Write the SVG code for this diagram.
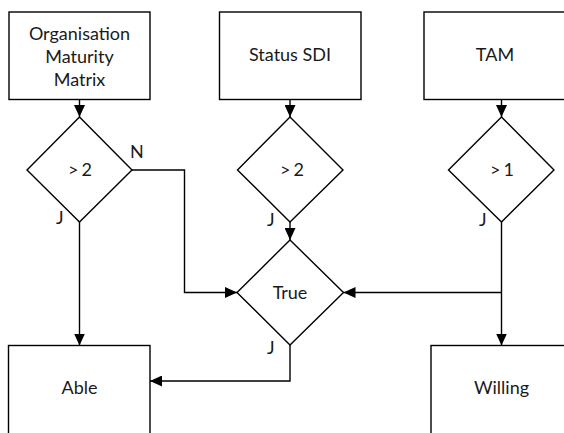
<svg xmlns="http://www.w3.org/2000/svg" width="564" height="433" viewBox="0 0 564 433">
<defs>
<marker id="ah" markerUnits="userSpaceOnUse" markerWidth="12" markerHeight="11" refX="12" refY="5.5" orient="auto">
<path d="M0,0 L12,5.5 L0,11 z" fill="#000"/>
</marker>
<style>
.s{fill:#fff;stroke:#000;stroke-width:1.4}
.t{font-family:Lato,"Open Sans",sans-serif;font-size:18px;fill:#1a1a1a;text-anchor:middle}
.l{font-family:Lato,"Open Sans",sans-serif;font-size:18px;fill:#1a1a1a}
.c{fill:none;stroke:#000;stroke-width:1.4;marker-end:url(#ah)}
.c2{fill:none;stroke:#000;stroke-width:1.4}
</style>
</defs>
<rect width="564" height="433" fill="#fff"/>
<g id="connectors">
<path class="c" d="M79.5,99.5 L79.5,117"/>
<path class="c" d="M290,99.5 L290,117"/>
<path class="c" d="M501.5,99.5 L501.5,117"/>
<path class="c" d="M132,170 L184.5,170 L184.5,292.5 L237,292.5"/>
<path class="c" d="M79.5,222 L79.5,345.5"/>
<path class="c" d="M290,222 L290,240"/>
<path class="c" d="M501.5,222 L501.5,345.5"/>
<path class="c" d="M501.5,292.5 L343.5,292.5"/>
<path class="c" d="M290,345 L290,381 L150,381"/>
<text class="l" x="130" y="158">N</text>
<text class="l" x="56" y="224">J</text>
<text class="l" x="267" y="226">J</text>
<text class="l" x="479" y="226">J</text>
<text class="l" x="267" y="354">J</text>
</g>
<g id="box-omm">
<rect class="s" x="9" y="12" width="141" height="87.5"/>
<text class="t" x="79.5" y="40">Organisation</text>
<text class="t" x="79.5" y="63">Maturity</text>
<text class="t" x="79.5" y="86">Matrix</text>
</g>
<g id="box-sdi">
<rect class="s" x="219.5" y="12" width="141.5" height="87.5"/>
<text class="t" x="290" y="61">Status SDI</text>
</g>
<g id="box-tam">
<rect class="s" x="424" y="12" width="145" height="87.5"/>
<text class="t" x="495" y="61">TAM</text>
</g>
<g id="dec-1">
<polygon class="s" points="79.5,117 132,170 79.5,222 27,170"/>
<text class="t" x="80" y="176">&gt;<tspan dx="3">2</tspan></text>
</g>
<g id="dec-2">
<polygon class="s" points="290,117 343,170 290,222 237.5,170"/>
<text class="t" x="292" y="176">&gt;<tspan dx="3">2</tspan></text>
</g>
<g id="dec-3">
<polygon class="s" points="501.5,117 554,170 501.5,222 448.5,170"/>
<text class="t" x="502" y="176">&gt;<tspan dx="3">1</tspan></text>
</g>
<g id="dec-true">
<polygon class="s" points="290,240 343.5,292.5 290,345 237,292.5"/>
<text class="t" x="290" y="298.5">True</text>
</g>
<g id="box-able">
<rect class="s" x="8.5" y="345.5" width="141.5" height="90"/>
<text class="t" x="79.5" y="394">Able</text>
</g>
<g id="box-willing">
<rect class="s" x="431" y="345.5" width="141" height="90"/>
<text class="t" x="501.5" y="394">Willing</text>
</g>
</svg>
